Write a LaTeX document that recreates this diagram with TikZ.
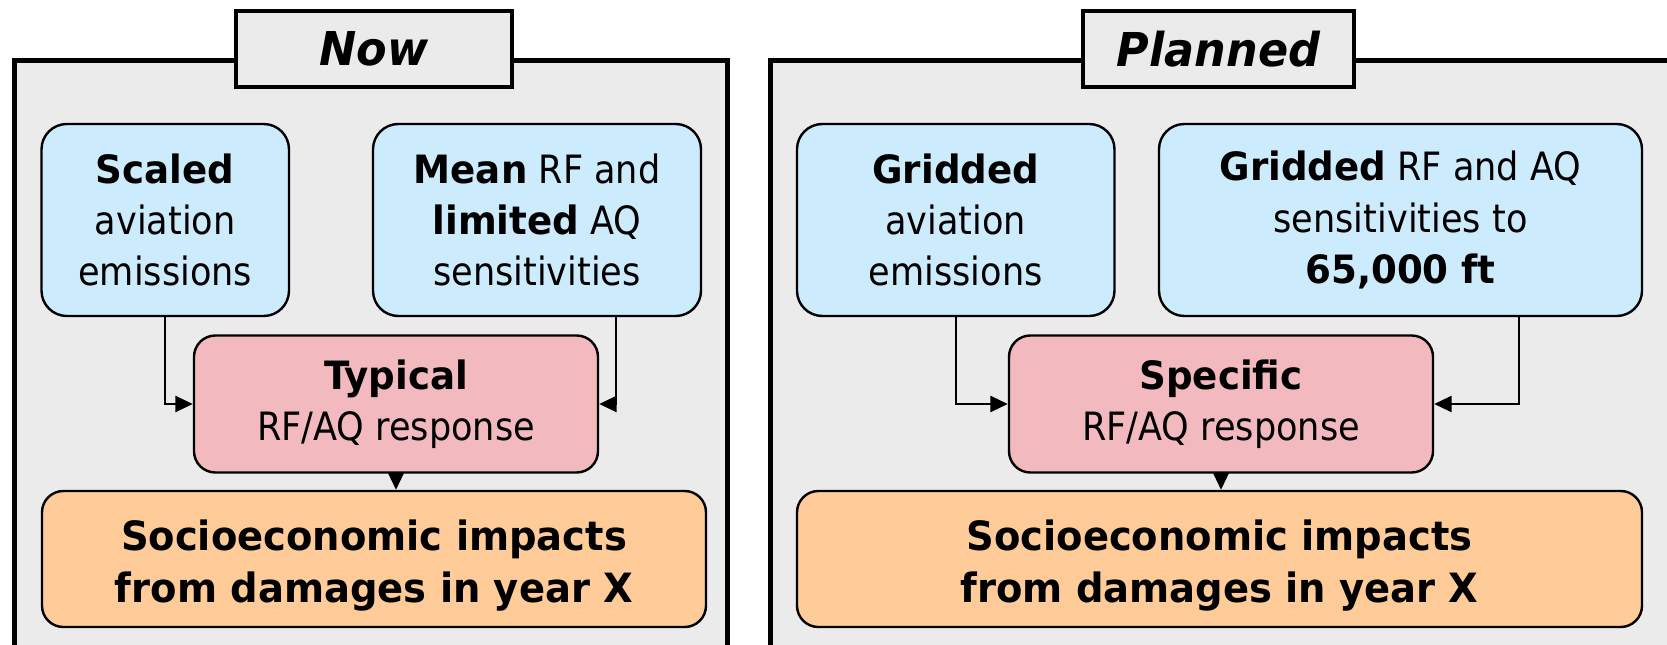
\documentclass[tikz,border=0pt]{standalone}
\usepackage{fontspec}
\setmainfont{DejaVu Sans Condensed}
\newfontfamily\widefam{DejaVu Sans Condensed}[FakeStretch=1.06]
\newcommand\bfw[1]{{\widefam\bfseries #1}}
\usetikzlibrary{arrows.meta,calc}
\definecolor{panelgray}{HTML}{EBEBEB}
\definecolor{boxblue}{HTML}{CCEBFD}
\definecolor{boxpink}{HTML}{F2B9BE}
\definecolor{boxorange}{HTML}{FFCC99}
\begin{document}
\begin{tikzpicture}[x=0.75pt,y=-0.75pt,
  panel/.style={fill=panelgray,draw=black,line width=3.75pt},
  titlebox/.style={fill=panelgray,draw=black,line width=3pt,inner sep=0pt,
    minimum height=76*0.75pt,font=\fontsize{35pt}{40pt}\selectfont\widefam\bfseries\itshape},
  box/.style={draw=black,line width=1.8pt,align=center,inner sep=0pt,
    font=\fontsize{29.25pt}{38.5pt}\selectfont},
  inbox/.style={box,fill=boxblue,rounded corners=19pt,minimum height=192*0.75pt},
  respbox/.style={box,fill=boxpink,rounded corners=16pt,minimum height=137*0.75pt},
  impbox/.style={box,fill=boxorange,rounded corners=16pt,minimum height=136*0.75pt},
  imptext/.style={align=center,inner sep=0pt,
    font=\fontsize{30.25pt}{38.5pt}\selectfont\widefam\bfseries},
  conn/.style={line width=1.5pt,-{Triangle[length=13pt,width=12pt]}}
]
\useasboundingbox (0,0) rectangle (1667,645);
\begin{scope}
  \clip (0,0) rectangle (1667,645);
  \draw[panel] (14.5,60.5) rectangle (727,720);
  \draw[panel] (770,60.5) rectangle (1720,720);
\end{scope}
% titles
\node[titlebox,minimum width=276*0.75pt] (tnow) at (374,49) {Now};
\node[titlebox,minimum width=271*0.75pt] (tplan) at (1218.5,49) {Planned};
% left panel
\node[inbox,minimum width=247.5*0.75pt] (lb1) at (165.25,220) {\bfw{Scaled}\\aviation\\emissions};
\node[inbox,minimum width=328*0.75pt] (lb2) at (537,220) {\bfw{Mean} RF and\\\bfw{limited} AQ\\sensitivities};
\node[respbox,minimum width=404*0.75pt] (lp) at (396,404) {\bfw{Typical}\\RF/AQ response};
\node[impbox,minimum width=664*0.75pt] (lo) at (374,559) {};
\node[imptext] (lot) at ([yshift=-5pt]lo.center) {Socioeconomic impacts\\from damages in year X};
\draw[conn] (lb1.south) |- (lp.west);
\draw[conn] ([xshift=79*0.75pt]lb2.south) |- (lp.east);
\draw[conn] (lp.south) -- (lp.south |- lo.north);
% right panel
\node[inbox,minimum width=317.5*0.75pt] (rb1) at (955.75,220) {\bfw{Gridded}\\aviation\\emissions};
\node[inbox,minimum width=483*0.75pt] (rb2) at (1400.5,220) {\bfw{Gridded} RF and AQ\\sensitivities to\\\bfw{65,000 ft}};
\node[respbox,minimum width=424*0.75pt] (rp) at (1221,404) {\bfw{Specific}\\RF/AQ response};
\node[impbox,minimum width=845*0.75pt] (ro) at (1219.5,559) {};
\node[imptext] (rot) at ([yshift=-5pt]ro.center) {Socioeconomic impacts\\from damages in year X};
\draw[conn] (rb1.south) |- (rp.west);
\draw[conn] ([xshift=118.5*0.75pt]rb2.south) |- (rp.east);
\draw[conn] (rp.south) -- (rp.south |- ro.north);
\end{tikzpicture}
\end{document}
